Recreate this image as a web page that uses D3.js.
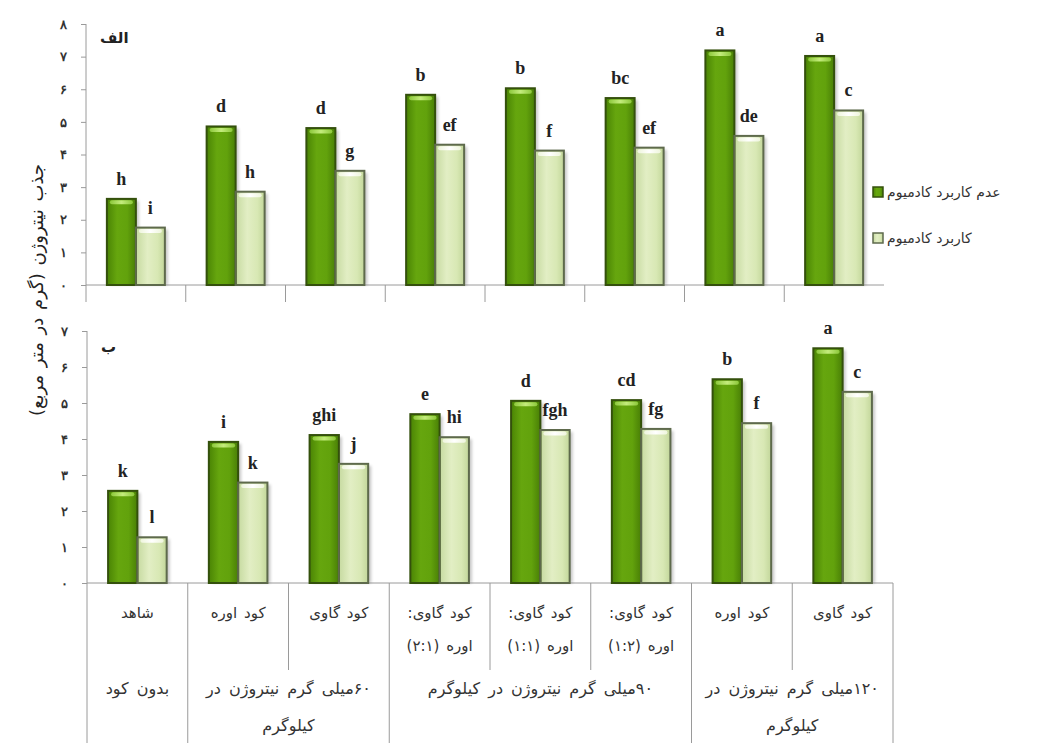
<!DOCTYPE html>
<html>
<head>
<meta charset="utf-8">
<script src="https://cdn.jsdelivr.net/npm/d3@7.9.0/dist/d3.min.js"></script>
<style>
  body { margin: 0; background: #fff; }
  svg { display: block; font-family: "DejaVu Sans", sans-serif; }
</style>
</head>
<body>
<svg id="chart" width="1047" height="743"></svg>
<script>
// categories (bottom table, first row) and groups (second row)
const categories = ['c1', 'c2', 'c3', 'c4', 'c5', 'c6', 'c7', 'c8'];
const catLabels = [
  ['شاهد'], ['کود اوره'], ['کود گاوی'],
  ['کود گاوی:', 'اوره (۲:۱)'], ['کود گاوی:', 'اوره (۱:۱)'], ['کود گاوی:', 'اوره (۱:۲)'],
  ['کود اوره'], ['کود گاوی']
];
const groups = [
  { from: 0, to: 1, lines: ['بدون کود'] },
  { from: 1, to: 3, lines: ['۶۰میلی گرم نیتروژن در', 'کیلوگرم'] },
  { from: 3, to: 6, lines: ['۹۰میلی گرم نیتروژن در کیلوگرم'] },
  { from: 6, to: 8, lines: ['۱۲۰میلی گرم نیتروژن در', 'کیلوگرم'] }
];
const series = ['عدم کاربرد کادمیوم', 'کاربرد کادمیوم'];

// panel الف
const aNoCd = [2.64, 4.86, 4.81, 5.83, 6.03, 5.73, 7.19, 7.02];
const aCd = [1.76, 2.86, 3.50, 4.30, 4.12, 4.21, 4.57, 5.35];
const aNoCdLetters = ['h', 'd', 'd', 'b', 'b', 'bc', 'a', 'a'];
const aCdLetters = ['i', 'h', 'g', 'ef', 'f', 'ef', 'de', 'c'];

// panel ب
const bNoCd = [2.56, 3.92, 4.11, 4.69, 5.06, 5.08, 5.66, 6.52];
const bCd = [1.27, 2.79, 3.31, 4.05, 4.25, 4.28, 4.44, 5.31];
const bNoCdLetters = ['k', 'i', 'ghi', 'e', 'd', 'cd', 'b', 'a'];
const bCdLetters = ['l', 'k', 'j', 'hi', 'fgh', 'fg', 'f', 'c'];

const yTitle = 'جذب نیتروژن (گرم در متر مربع)';
const faDigits = d => String(d).replace(/\d/g, c => '۰۱۲۳۴۵۶۷۸۹'[c]);

const svg = d3.select('#chart');
const defs = svg.append('defs');

function grad(id, stops) {
  const g = defs.append('linearGradient').attr('id', id)
    .attr('x1', 0).attr('x2', 1).attr('y1', 0).attr('y2', 0);
  stops.forEach(([o, c]) => g.append('stop').attr('offset', o).attr('stop-color', c));
}
grad('gDark', [[0, '#4a8404'], [0.35, '#66a60e'], [0.7, '#62a20c'], [1, '#497f06']]);
grad('gLight', [[0, '#c6daa0'], [0.4, '#e2eec4'], [0.75, '#d8e8b4'], [1, '#c2d69a']]);
grad('hDark', [[0, '#8cc83a'], [0.5, '#c4ec7c'], [1, '#8cc83a']]);
grad('hLight', [[0, '#eef5dc'], [0.5, '#ffffff'], [1, '#eef5dc']]);
defs.append('filter').attr('id', 'shadow').attr('x', '-20%').attr('y', '-20%').attr('width', '160%').attr('height', '140%')
  .append('feGaussianBlur').attr('stdDeviation', 1.6);

const fills = ['url(#gDark)', 'url(#gLight)'];
const highlights = ['url(#hDark)', 'url(#hLight)'];
const strokes = ['#34500c', '#5e6a4c'];

function panel({ left, right, top, base, max, vals, letters, title, titleY, tickDown }) {
  const x = d3.scaleBand().domain(categories).range([left, right]);
  const xs = d3.scaleBand().domain(series).range([0, x.bandwidth()]).paddingOuter(0.72);
  const y = d3.scaleLinear().domain([0, max]).range([base, top]);
  const g = svg.append('g');

  // y axis
  const ax = g.append('g').attr('transform', `translate(${left},0)`)
    .call(d3.axisLeft(y).ticks(max).tickSize(5).tickFormat(faDigits));
  ax.select('.domain').remove();
  ax.selectAll('.tick line').attr('stroke', '#9a9a9a');
  ax.selectAll('.tick text').attr('x', -23).attr('text-anchor', 'middle')
    .attr('font-size', 13).attr('font-weight', 'bold').attr('fill', '#333');
  g.append('line').attr('x1', left).attr('x2', left).attr('y1', y(max)).attr('y2', base + tickDown)
    .attr('stroke', '#9a9a9a');
  g.append('line').attr('x1', left).attr('x2', right).attr('y1', base).attr('y2', base)
    .attr('stroke', '#9a9a9a');

  const rows = [];
  categories.forEach((c, i) => {
    vals.forEach((v, s) => rows.push({ c, s, v: v[i], l: letters[s][i] }));
  });
  const bx = d => x(d.c) + xs(series[d.s]);
  const bw = xs.bandwidth();

  g.selectAll('rect.sh').data(rows).join('rect').attr('class', 'sh')
    .attr('x', d => bx(d) + 3).attr('y', d => y(d.v) + 2)
    .attr('width', bw).attr('height', d => base - y(d.v) - 2)
    .attr('fill', '#000').attr('opacity', 0.22).attr('filter', 'url(#shadow)');
  g.selectAll('rect.bar').data(rows).join('rect').attr('class', 'bar')
    .attr('x', bx).attr('y', d => y(d.v))
    .attr('width', bw).attr('height', d => base - y(d.v))
    .attr('fill', d => fills[d.s]);
  g.selectAll('rect.hl').data(rows).join('rect').attr('class', 'hl')
    .attr('x', d => bx(d) + 3).attr('y', d => y(d.v) + 1.5)
    .attr('width', bw - 6).attr('height', 4).attr('rx', 2)
    .attr('fill', d => highlights[d.s]);
  g.selectAll('rect.ol').data(rows).join('rect').attr('class', 'ol')
    .attr('x', bx).attr('y', d => y(d.v))
    .attr('width', bw).attr('height', d => base - y(d.v))
    .attr('fill', 'none').attr('stroke', d => strokes[d.s]).attr('stroke-width', 2);

  g.selectAll('text.lt').data(rows).join('text').attr('class', 'lt')
    .attr('x', d => bx(d) + bw / 2).attr('y', d => y(d.v) - 14)
    .attr('text-anchor', 'middle')
    .attr('font-family', '"Liberation Serif", serif').attr('font-weight', 'bold')
    .attr('font-size', 18).attr('fill', '#222')
    .text(d => d.l);

  g.append('text').attr('x', left + 14).attr('y', titleY)
    .attr('font-size', 15).attr('font-weight', 'bold').attr('fill', '#222')
    .text(title);
  return { x, y, g };
}

const pA = panel({
  left: 86, right: 884, top: 24, base: 285, max: 8, tickDown: 17,
  vals: [aNoCd, aCd], letters: [aNoCdLetters, aCdLetters], title: 'الف', titleY: 43
});
// category ticks under the top panel
pA.g.selectAll('line.ct').data(categories.slice(1)).join('line').attr('class', 'ct')
  .attr('x1', d => pA.x(d)).attr('x2', d => pA.x(d)).attr('y1', 285).attr('y2', 302)
  .attr('stroke', '#9a9a9a');

const pB = panel({
  left: 87, right: 893, top: 331, base: 583, max: 7, tickDown: 160,
  vals: [bNoCd, bCd], letters: [bNoCdLetters, bCdLetters], title: 'ب', titleY: 352
});

// category table under the bottom panel
const xB = pB.x;
const groupEdges = new Set(groups.map(g => g.to));
d3.range(1, categories.length + 1).forEach(i => {
  const xx = i < categories.length ? xB(categories[i]) : xB.range()[1];
  pB.g.append('line').attr('x1', xx).attr('x2', xx).attr('y1', 583)
    .attr('y2', groupEdges.has(i) ? 743 : 670).attr('stroke', '#9a9a9a');
});
const tbl = pB.g.append('g').attr('fill', '#333')
  .attr('direction', 'rtl').attr('text-anchor', 'middle');
catLabels.forEach((lines, i) => {
  lines.forEach((t, j) => {
    tbl.append('text').attr('x', xB(categories[i]) + xB.bandwidth() / 2)
      .attr('y', 618 + j * 33).attr('font-size', 15).attr('word-spacing', 2).text(t);
  });
});
groups.forEach(gr => {
  const cx = (xB(categories[gr.from]) + xB(categories[gr.to - 1]) + xB.bandwidth()) / 2;
  gr.lines.forEach((t, j) => {
    tbl.append('text').attr('x', cx).attr('y', 694 + j * 37)
      .attr('font-size', 16).attr('word-spacing', 3).text(t);
  });
});

// y axis title
svg.append('text').attr('transform', 'translate(43,290) rotate(-90)')
  .attr('text-anchor', 'middle').attr('direction', 'rtl')
  .attr('font-size', 18).attr('word-spacing', 2).attr('fill', '#222')
  .text(yTitle);

// legend
const legend = svg.append('g').attr('transform', 'translate(873,187)');
series.forEach((s, i) => {
  const row = legend.append('g').attr('transform', `translate(0,${i * 46})`);
  row.append('rect').attr('width', 10).attr('height', 10)
    .attr('fill', fills[i]).attr('stroke', strokes[i]).attr('stroke-width', 1.5);
  row.append('text').attr('x', 14).attr('y', 10).attr('font-size', 14).attr('fill', '#333')
    .text(s);
});
</script>
</body>
</html>
